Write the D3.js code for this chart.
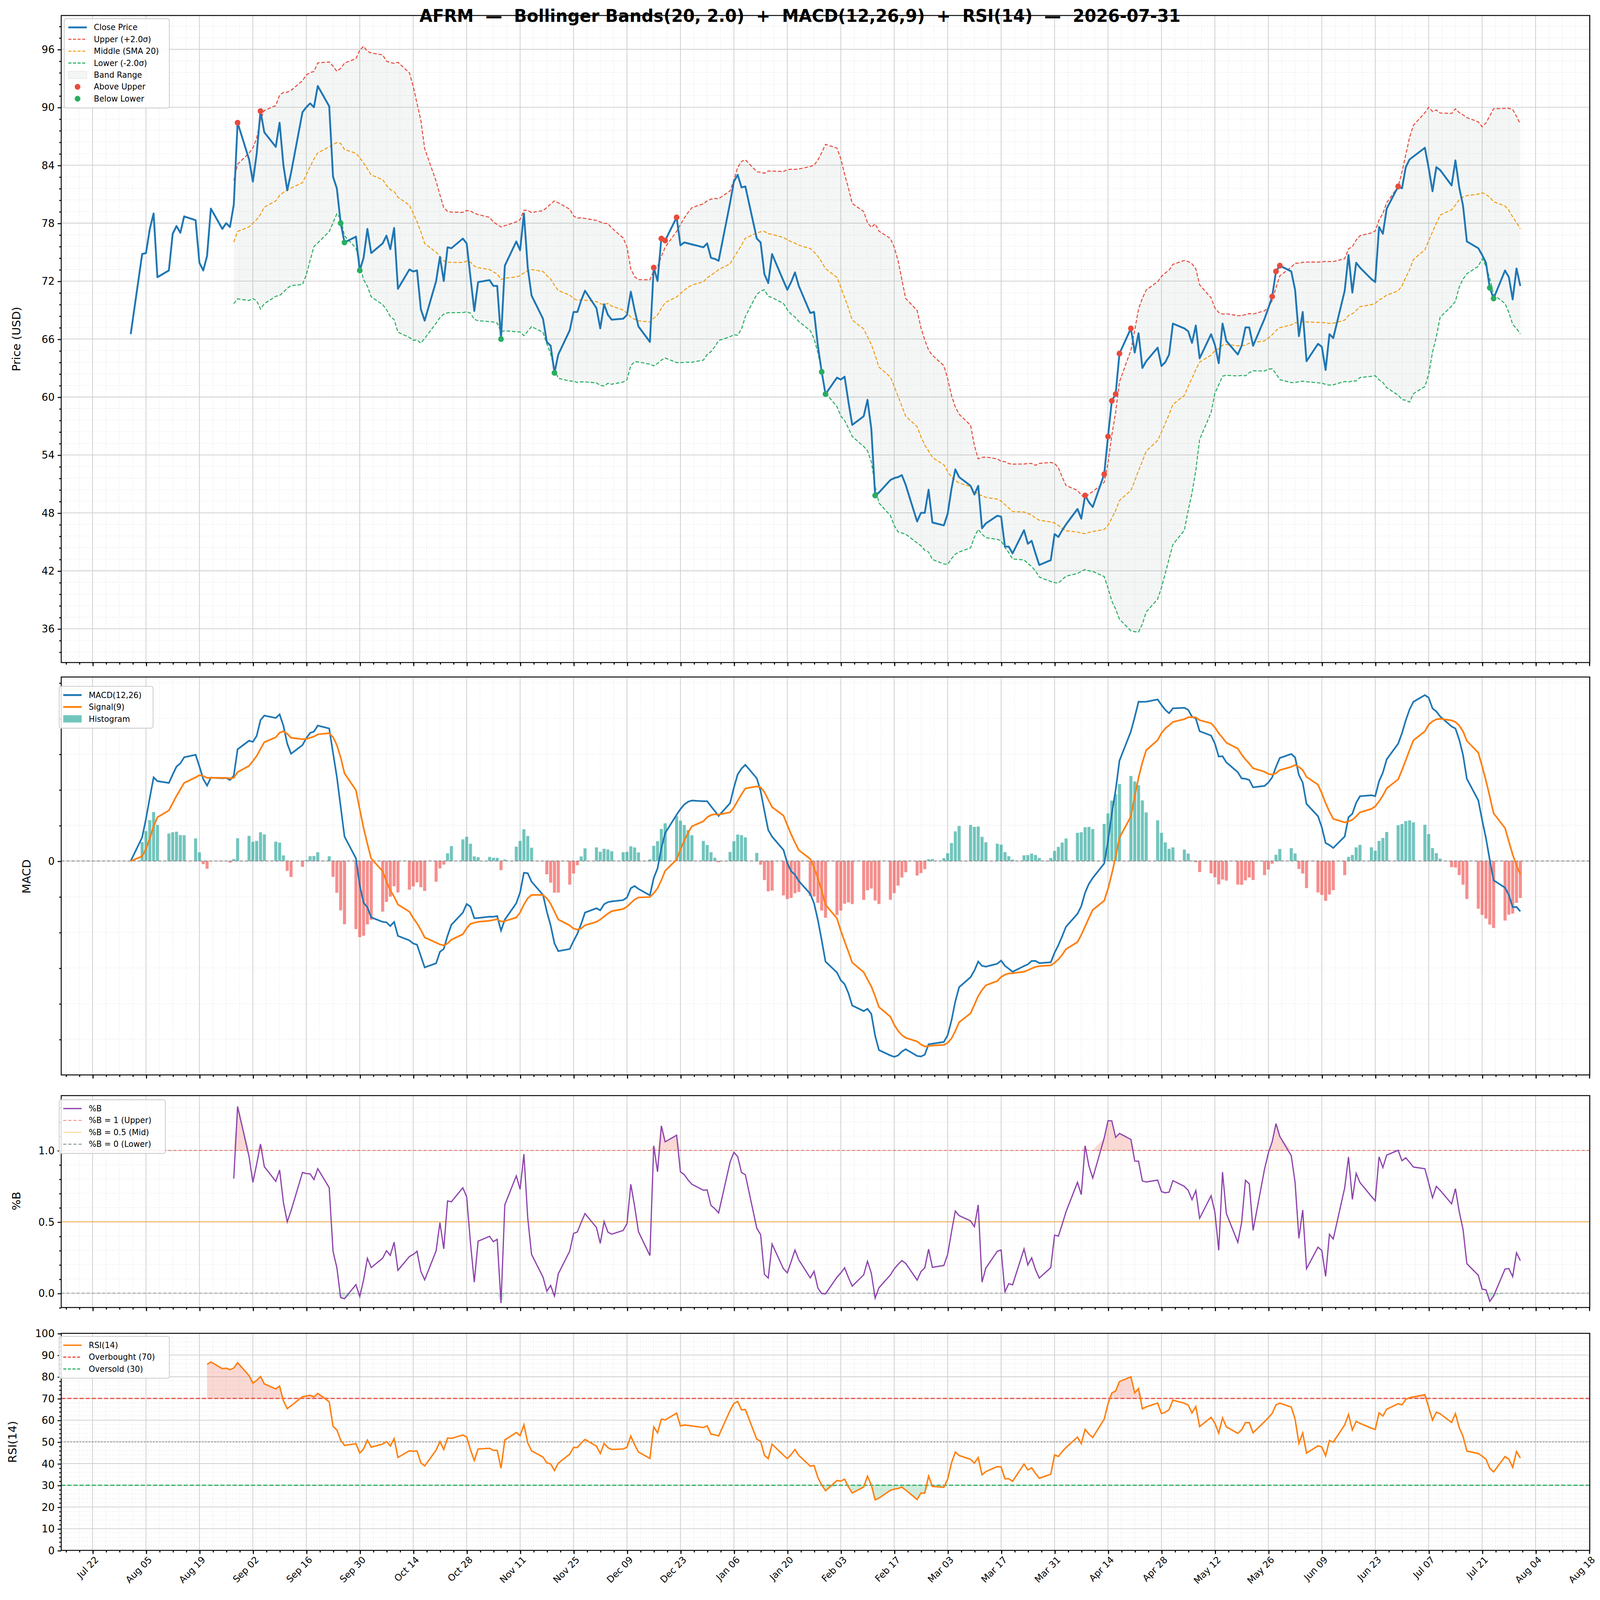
<!DOCTYPE html>
<html><head><meta charset="utf-8">
<script src="https://cdn.jsdelivr.net/npm/d3@7"></script>
<style>html,body{margin:0;padding:0;background:#fff;overflow:hidden}svg{display:block;width:100vw;height:100vh;font-family:"DejaVu Sans",sans-serif}</style>
</head><body>
<svg id="chart" viewBox="0 0 1568 1548" preserveAspectRatio="none"></svg>
<script>
// closes, one per weekday from 2025-08-01 to 2026-07-31
const closes = [
  66.5, 74.8,74.9,77.4,79.0,72.4, 73.1,76.9,77.7,77.0,78.7, 78.3,73.9,73.1,74.6,79.5, 77.4,78.0,77.6,79.9,88.4,
  84.6,82.3,85.2,89.6,87.4, 85.9,88.4,84.0,81.4,83.2, 89.5,90.0,90.4,90.0,92.2, 90.1,82.8,81.6,78.0,76.0, 76.6,73.1,
  74.4,77.4,74.9, 75.9,76.7,75.3,77.5,71.2, 73.2,73.0,73.1,69.1,67.9, 72.0,74.5,72.0,75.5,75.4, 76.4,75.9,72.4,68.9,71.9,
  72.1,71.5,71.5,66.0,73.6, 76.1,75.2,79.0,73.4,70.5, 68.1,65.7,65.3,62.5,64.4, 66.9,68.8,68.8,70.0,71.0,
  69.2,67.1,69.6,68.5,68.0, 68.1,68.5,70.9,69.0,67.3, 65.7,73.4,72.0,76.4,76.2, 78.6,75.7,76.0,75.9,75.8, 75.5,75.9,74.4,
  74.3,74.1, 80.1,82.3,83.0,81.7,81.8, 76.4,76.0,72.7,71.8,74.8, 72.0,71.1,71.9,72.9,71.5, 68.7,68.8,65.3,62.6,60.3,
  62.0,61.8,62.1,59.5,57.1, 58.0,59.7,56.7,49.8,50.1, 51.4,51.6,51.7,51.9,50.9, 47.1,48.0,48.0,50.4,47.0,
  46.7,47.9,50.5,52.5,51.7, 50.8,49.9,50.8,46.4,46.9, 47.7,47.6,44.5,44.5,43.8, 46.2,44.8,45.1,43.8,42.6, 43.1,45.8,
  45.5,46.2,46.8, 48.4,47.4,49.8,49.1,48.6, 52.0,55.9,59.6,60.3,64.5, 67.1,64.6,66.6,63.0,63.7, 65.1,63.2,63.6,64.4,
  67.6, 67.1,66.8,65.6,67.4,64.0, 66.5,65.4,63.5,67.6,65.8, 64.4,65.3,67.2,67.2,65.3, 68.1,69.2,70.4,73.0,73.6,
  73.0,71.1,66.3,68.8,63.7, 65.5,65.2,62.8,66.5,66.1, 71.0,74.7,70.8,73.9,73.4, 72.2,71.9,77.6,76.9,79.5, 81.8,81.6,
  83.8,84.6,84.9, 85.8,83.7,81.3,83.8,83.5, 81.9,84.5,81.7,79.8,76.1, 75.4,74.7,73.9,71.3,70.2, 73.1,72.4,70.1,73.3,71.5
];
const ticker = "AFRM";
const asOf = "2026-07-31";
const priceTicks = [36, 42, 48, 54, 60, 66, 72, 78, 84, 90, 96];
const pbTicks = [0, 0.5, 1.0];
const rsiTicks = d3.range(0, 101, 10);

const dates = d3.timeDay.range(new Date(2025, 7, 1), new Date(2026, 7, 1)).filter(d => d.getDay() % 6 !== 0);
const n = Math.min(dates.length, closes.length);
const data = d3.range(n).map(i => ({ date: dates[i], close: closes[i] }));

// Bollinger (20, 2)
data.forEach((d, i) => {
  if (i >= 19) {
    const w = closes.slice(i - 19, i + 1);
    d.mid = d3.mean(w);
    const sd = d3.deviation(w);
    d.up = d.mid + 2 * sd; d.lo = d.mid - 2 * sd;
    d.pb = (d.close - d.lo) / (d.up - d.lo);
  }
});
// MACD
const ema = (arr, a) => { let e = arr[0]; return arr.map(v => (e = a * v + (1 - a) * e)); };
const cl = closes.slice(0, n);
const e12 = ema(cl, 2 / 13), e26 = ema(cl, 2 / 27);
const macd = e12.map((v, i) => v - e26[i]);
const sig = ema(macd, 2 / 10);
data.forEach((d, i) => { d.macd = macd[i]; d.sig = sig[i]; d.hist = macd[i] - sig[i]; });
// RSI 14, Wilder smoothing
const diffs = cl.slice(1).map((v, i) => v - cl[i]);
const ag = ema(diffs.map(v => Math.max(v, 0)), 1 / 14);
const al = ema(diffs.map(v => Math.max(-v, 0)), 1 / 14);
data.forEach((d, i) => {
  if (i >= 14) d.rsi = al[i - 1] === 0 ? 100 : 100 - 100 / (1 + ag[i - 1] / al[i - 1]);
});

const svg = d3.select("#chart");
const L = 60, R = 1558;
const span = data[n - 1].date - data[0].date;
const x = d3.scaleTime().domain([new Date(+data[0].date - span * 0.05), new Date(+data[n - 1].date + span * 0.05)]).range([L, R]);
const majorX = d3.timeDay.range(new Date(2025, 6, 22), new Date(2026, 7, 20), 14);
const minorX = d3.timeHour.range(new Date(2025, 6, 1), new Date(2026, 8, 1), 84);

const panels = [];
function panel(top, bottom, domain, yt, minor) {
  const y = d3.scaleLinear().domain(domain).range([bottom, top]);
  const g = svg.append("g");
  const inX = minorX.filter(d => x(d) > L && x(d) < R);
  g.selectAll(".vx").data(inX).join("line").attr("x1", d => x(d)).attr("x2", d => x(d)).attr("y1", top).attr("y2", bottom)
    .attr("stroke", "#ddd").attr("stroke-width", 0.4).attr("stroke-dasharray", "1,1.5");
  g.selectAll(".hm").data(minor).join("line").attr("x1", L).attr("x2", R).attr("y1", d => y(d)).attr("y2", d => y(d))
    .attr("stroke", "#ddd").attr("stroke-width", 0.4).attr("stroke-dasharray", "1,1.5");
  g.selectAll(".vX").data(majorX.filter(d => x(d) > L && x(d) < R)).join("line").attr("x1", d => x(d)).attr("x2", d => x(d)).attr("y1", top).attr("y2", bottom)
    .attr("stroke", "#ccc").attr("stroke-width", 0.7);
  g.selectAll(".hM").data(yt).join("line").attr("x1", L).attr("x2", R).attr("y1", d => y(d)).attr("y2", d => y(d))
    .attr("stroke", "#ccc").attr("stroke-width", 0.7);
  panels.push({ g, y, top, bottom, yt, minor });
  return { g, y };
}
function frame(p, fmt, showX) {
  const { g, y, top, bottom, yt, minor } = p;
  g.append("g").attr("transform", `translate(${L},0)`).call(d3.axisLeft(y).tickValues(yt).tickFormat(fmt).tickSize(3.5).tickPadding(3))
    .call(a => a.select(".domain").remove()).call(a => a.selectAll("text").attr("font-size", 10).attr("font-family", "DejaVu Sans"));
  g.append("g").attr("transform", `translate(${L},0)`).call(d3.axisLeft(y).tickValues(minor).tickFormat("").tickSize(2))
    .call(a => a.select(".domain").remove());
  const bx = g.append("g").attr("transform", `translate(0,${bottom})`).call(d3.axisBottom(x).tickValues(majorX).tickFormat(showX ? d3.timeFormat("%b %d") : "").tickSize(3.5))
    .call(a => a.select(".domain").remove());
  bx.selectAll("text").attr("font-size", 9).attr("font-family", "DejaVu Sans").attr("text-anchor", "end")
    .attr("transform", "rotate(-45)").attr("dx", "-0.3em").attr("dy", "0.5em");
  g.append("g").attr("transform", `translate(0,${bottom})`).call(d3.axisBottom(x).tickValues(minorX.filter(d => x(d) >= L && x(d) <= R)).tickFormat("").tickSize(2))
    .call(a => a.select(".domain").remove());
  g.append("rect").attr("x", L).attr("y", top).attr("width", R - L).attr("height", bottom - top).attr("fill", "none").attr("stroke", "#000").attr("stroke-width", 0.9);
}
function legend(g, x0, y0, w, items) {
  const h = items.length * 11.5 + 6;
  g.append("rect").attr("x", x0).attr("y", y0).attr("width", w).attr("height", h).attr("rx", 2)
    .attr("fill", "#fff").attr("fill-opacity", 0.85).attr("stroke", "#ccc").attr("stroke-width", 0.8);
  items.forEach((it, i) => {
    const yy = y0 + 8.5 + i * 11.5;
    if (it.type === "line") g.append("line").attr("x1", x0 + 4).attr("x2", x0 + 22).attr("y1", yy).attr("y2", yy)
      .attr("stroke", it.color).attr("stroke-width", it.w || 1.5).attr("stroke-dasharray", it.dash || null).attr("opacity", it.op || 1);
    else if (it.type === "rect") g.append("rect").attr("x", x0 + 4).attr("y", yy - 3.5).attr("width", 18).attr("height", 7)
      .attr("fill", it.color).attr("fill-opacity", it.op || 1).attr("stroke", it.stroke || "none").attr("stroke-width", 0.4);
    else g.append("circle").attr("cx", x0 + 13).attr("cy", yy).attr("r", 2.8).attr("fill", it.color);
    g.append("text").attr("x", x0 + 29).attr("y", yy).attr("dy", "0.35em").attr("font-size", 7.8).text(it.label);
  });
}
const ylabel = (t, xx, yy) => svg.append("text").attr("transform", `translate(${xx},${yy}) rotate(-90)`).attr("text-anchor", "middle").attr("font-size", 11).text(t);

// ---- Price panel
const pp = panel(15, 641, [32.5, 99.5], priceTicks, d3.range(33.6, 99.5, 1.2).filter(v => Math.abs((v / 6) - Math.round(v / 6)) > 0.01));
const bb = data.filter(d => d.mid != null);
pp.g.append("path").datum(bb).attr("fill", "#95a5a6").attr("fill-opacity", 0.1)
  .attr("d", d3.area().x(d => x(d.date)).y0(d => pp.y(d.lo)).y1(d => pp.y(d.up)));
[["up", "#e74c3c"], ["mid", "#f39c12"], ["lo", "#27ae60"]].forEach(([k, c]) =>
  pp.g.append("path").datum(bb).attr("fill", "none").attr("stroke", c).attr("stroke-width", 1).attr("stroke-dasharray", "3.5,1.8")
    .attr("d", d3.line().x(d => x(d.date)).y(d => pp.y(d[k]))));
pp.g.append("path").datum(data).attr("fill", "none").attr("stroke", "#1f77b4").attr("stroke-width", 1.8).attr("stroke-linejoin", "round")
  .attr("d", d3.line().x(d => x(d.date)).y(d => pp.y(d.close)));
pp.g.selectAll(".au").data(bb.filter(d => d.close > d.up)).join("circle").attr("cx", d => x(d.date)).attr("cy", d => pp.y(d.close)).attr("r", 2.8).attr("fill", "#e74c3c");
pp.g.selectAll(".bl").data(bb.filter(d => d.close < d.lo)).join("circle").attr("cx", d => x(d.date)).attr("cy", d => pp.y(d.close)).attr("r", 2.8).attr("fill", "#27ae60");
frame(panels[0], d3.format("d"), false);
legend(pp.g, 63, 18, 103, [
  { type: "line", color: "#1f77b4", label: "Close Price", w: 1.8 },
  { type: "line", color: "#e74c3c", label: "Upper (+2.0σ)", dash: "3,1.5", w: 1 },
  { type: "line", color: "#f39c12", label: "Middle (SMA 20)", dash: "3,1.5", w: 1 },
  { type: "line", color: "#27ae60", label: "Lower (-2.0σ)", dash: "3,1.5", w: 1 },
  { type: "rect", color: "#95a5a6", op: 0.1, stroke: "#ddd", label: "Band Range" },
  { type: "dot", color: "#e74c3c", label: "Above Upper" },
  { type: "dot", color: "#27ae60", label: "Below Lower" }]);
ylabel("Price (USD)", 20, 328);

// ---- MACD panel
const mext = d3.extent(data.flatMap(d => [d.macd, d.sig]));
const mpad = (mext[1] - mext[0]) * 0.05;
const mp = panel(655, 1040, [mext[0] - mpad, mext[1] + mpad], [0], d3.ticks(mext[0] - mpad, mext[1] + mpad, 12).filter(v => v !== 0));
const bw = (x(d3.timeDay.offset(data[0].date, 1)) - x(data[0].date)) * 0.8;
mp.g.selectAll(".hb").data(data).join("rect").attr("x", d => x(d.date) - bw / 2).attr("width", bw)
  .attr("y", d => mp.y(Math.max(0, d.hist))).attr("height", d => Math.abs(mp.y(d.hist) - mp.y(0)))
  .attr("fill", d => d.hist >= 0 ? "#26a69a" : "#ef5350").attr("fill-opacity", 0.65);
mp.g.append("line").attr("x1", L).attr("x2", R).attr("y1", mp.y(0)).attr("y2", mp.y(0)).attr("stroke", "#888").attr("stroke-width", 0.8).attr("stroke-dasharray", "3,2");
mp.g.append("path").datum(data).attr("fill", "none").attr("stroke", "#1f77b4").attr("stroke-width", 1.6).attr("d", d3.line().x(d => x(d.date)).y(d => mp.y(d.macd)));
mp.g.append("path").datum(data).attr("fill", "none").attr("stroke", "#ff7f0e").attr("stroke-width", 1.6).attr("d", d3.line().x(d => x(d.date)).y(d => mp.y(d.sig)));
frame(panels[1], d3.format("d"), false);
legend(mp.g, 58, 664, 92, [
  { type: "line", color: "#1f77b4", label: "MACD(12,26)", w: 1.8 },
  { type: "line", color: "#ff7f0e", label: "Signal(9)", w: 1.8 },
  { type: "rect", color: "#26a69a", op: 0.65, label: "Histogram" }]);
ylabel("MACD", 30, 848);

// ---- %B panel
const bp = panel(1060, 1265, [-0.1, 1.384], pbTicks, d3.range(-0.1, 1.39, 0.1).filter(v => Math.abs(v * 2 - Math.round(v * 2)) > 0.01));
const pbd = data.filter(d => d.pb != null);
bp.g.append("path").datum(pbd).attr("fill", "#e74c3c").attr("fill-opacity", 0.22)
  .attr("d", d3.area().x(d => x(d.date)).y0(bp.y(1)).y1(d => bp.y(Math.max(1, d.pb))));
bp.g.append("path").datum(pbd).attr("fill", "#27ae60").attr("fill-opacity", 0.22)
  .attr("d", d3.area().x(d => x(d.date)).y0(bp.y(0)).y1(d => bp.y(Math.min(0, d.pb))));
[[1, "#e74c3c", "3,2"], [0.5, "#f39c12", null], [0, "#7f8c8d", "3,2"]].forEach(([v, c, da]) =>
  bp.g.append("line").attr("x1", L).attr("x2", R).attr("y1", bp.y(v)).attr("y2", bp.y(v)).attr("stroke", c).attr("stroke-width", 0.8).attr("stroke-opacity", 0.7).attr("stroke-dasharray", da));
bp.g.append("path").datum(pbd).attr("fill", "none").attr("stroke", "#8e44ad").attr("stroke-width", 1.2).attr("d", d3.line().x(d => x(d.date)).y(d => bp.y(d.pb)));
frame(panels[2], d3.format(".1f"), false);
legend(bp.g, 58, 1064, 104, [
  { type: "line", color: "#8e44ad", label: "%B", w: 1.2 },
  { type: "line", color: "#e74c3c", label: "%B = 1 (Upper)", dash: "3,2", w: 0.8, op: 0.7 },
  { type: "line", color: "#f39c12", label: "%B = 0.5 (Mid)", w: 0.8, op: 0.5 },
  { type: "line", color: "#7f8c8d", label: "%B = 0 (Lower)", dash: "3,2", w: 0.8 }]);
ylabel("%B", 20, 1162);

// ---- RSI panel
const rp = panel(1290, 1500, [0, 100], rsiTicks, d3.range(2, 100, 2).filter(v => v % 10));
const rd = data.filter(d => d.rsi != null);
rp.g.append("path").datum(rd).attr("fill", "#e74c3c").attr("fill-opacity", 0.22)
  .attr("d", d3.area().x(d => x(d.date)).y0(rp.y(70)).y1(d => rp.y(Math.max(70, d.rsi))));
rp.g.append("path").datum(rd).attr("fill", "#27ae60").attr("fill-opacity", 0.22)
  .attr("d", d3.area().x(d => x(d.date)).y0(rp.y(30)).y1(d => rp.y(Math.min(30, d.rsi))));
rp.g.append("line").attr("x1", L).attr("x2", R).attr("y1", rp.y(70)).attr("y2", rp.y(70)).attr("stroke", "#e74c3c").attr("stroke-width", 1.1).attr("stroke-dasharray", "4,2");
rp.g.append("line").attr("x1", L).attr("x2", R).attr("y1", rp.y(30)).attr("y2", rp.y(30)).attr("stroke", "#27ae60").attr("stroke-width", 1.1).attr("stroke-dasharray", "4,2");
rp.g.append("line").attr("x1", L).attr("x2", R).attr("y1", rp.y(50)).attr("y2", rp.y(50)).attr("stroke", "#888").attr("stroke-width", 0.8).attr("stroke-dasharray", "1.5,1.5");
rp.g.append("path").datum(rd).attr("fill", "none").attr("stroke", "#ff7f0e").attr("stroke-width", 1.4).attr("d", d3.line().x(d => x(d.date)).y(d => rp.y(d.rsi)));
frame(panels[3], d3.format("d"), true);
legend(rp.g, 58, 1293, 108, [
  { type: "line", color: "#ff7f0e", label: "RSI(14)", w: 1.4 },
  { type: "line", color: "#e74c3c", label: "Overbought (70)", dash: "3,1.5", w: 1.1 },
  { type: "line", color: "#27ae60", label: "Oversold (30)", dash: "3,1.5", w: 1.1 }]);
ylabel("RSI(14)", 16, 1395);

svg.append("text").attr("x", 784).attr("y", 21).attr("text-anchor", "middle").attr("font-size", 16.5).attr("font-weight", "bold")
  .attr("style", "white-space:pre")
  .text(`${ticker}  —  Bollinger Bands(20, 2.0)  +  MACD(12,26,9)  +  RSI(14)  —  ${asOf}`);
</script>
</body></html>
